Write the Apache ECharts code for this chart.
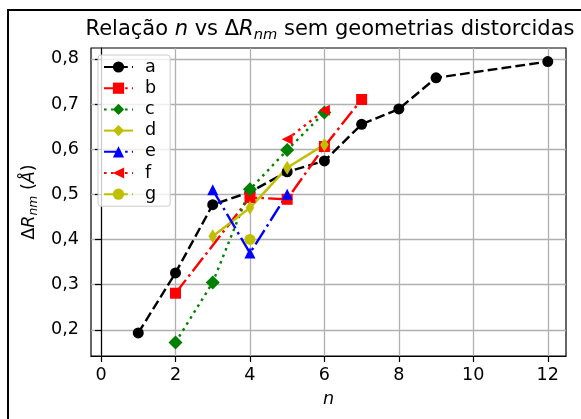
<!DOCTYPE html>
<html>
<head>
<meta charset="utf-8">
<script src="https://cdn.jsdelivr.net/npm/echarts@6/dist/echarts.min.js"></script>
<style>
  html, body { margin: 0; padding: 0; background: #ffffff; }
  #chart { width: 581px; height: 419px; }
</style>
</head>
<body>
<div id="chart"></div>
<script>
// n values and ΔR_nm (Å) for each set
const nA = [1, 2, 3, 4, 5, 6, 7, 8, 9, 12];
const dA = [0.193, 0.326, 0.477, 0.505, 0.550, 0.574, 0.655, 0.689, 0.758, 0.794];
const nB = [2, 4, 5, 6, 7];
const dB = [0.281, 0.493, 0.489, 0.606, 0.710];
const nC = [2, 3, 4, 5, 6];
const dC = [0.172, 0.305, 0.511, 0.598, 0.681];
const nD = [3, 4, 5, 6];
const dD = [0.407, 0.470, 0.559, 0.610];
const nE = [3, 4, 5];
const dE = [0.510, 0.370, 0.500];
const nF = [5, 6];
const dF = [0.622, 0.686];
const nG = [4];
const dG = [0.400];

const seriesNames = ['a', 'b', 'c', 'd', 'e', 'f', 'g'];
const xTicks = [0, 2, 4, 6, 8, 10, 12];
const yTicks = [0.2, 0.3, 0.4, 0.5, 0.6, 0.7, 0.8];

const FONT = 'DejaVu Sans';
const LW = 2.4;
const DASHED = [9.8, 4.2];
const DASHDOT = [16.9, 4.2, 2.6, 4.2];
const DOTTED = [2.6, 4.4];

function pairs(xs, ys) {
  return xs.map((x, i) => [x, ys[i]]);
}

function lineSeries(name, xs, ys, color, dash, symbol, size, rotate) {
  return {
    name: name,
    type: 'line',
    data: pairs(xs, ys),
    symbol: symbol,
    symbolSize: size,
    symbolRotate: rotate || 0,
    showAllSymbol: true,
    lineStyle: { color: color, width: LW, type: dash, cap: 'butt' },
    itemStyle: { color: color, borderColor: color, borderWidth: 0 },
    emphasis: { disabled: true },
    animation: false
  };
}

const chart = echarts.init(document.getElementById('chart'), null, { renderer: 'canvas' });

chart.setOption({
  backgroundColor: '#ffffff',
  animation: false,
  graphic: [
    {
      type: 'rect',
      shape: { x: 8, y: 10, width: 620, height: 480 },
      style: { fill: 'none', stroke: '#000000', lineWidth: 2 },
      silent: true
    },
    {
      type: 'text',
      x: 330,
      y: 30,
      style: {
        text: 'Relação {i|n} vs Δ{i|R}{s|nm} sem geometrias distorcidas',
        fontFamily: FONT,
        fontSize: 21,
        lineHeight: 26,
        fill: '#000000',
        align: 'center',
        verticalAlign: 'middle',
        rich: {
          i: { fontFamily: FONT, fontSize: 21, fontStyle: 'italic', lineHeight: 26, fill: '#000000' },
          s: { fontFamily: FONT, fontSize: 14.7, fontStyle: 'italic', verticalAlign: 'bottom', fill: '#000000' }
        }
      },
      silent: true
    }
  ],
  grid: {
    left: 91, right: 15, top: 48, bottom: 63,
    show: true, borderColor: '#000000', borderWidth: 1.2,
    containLabel: false
  },
  legend: {
    orient: 'vertical',
    left: 98,
    top: 55,
    padding: [3, 14, 3, 5],
    itemWidth: 29,
    itemHeight: 14,
    itemGap: 3.2,
    backgroundColor: 'rgba(255,255,255,0.8)',
    borderColor: '#cccccc',
    borderWidth: 1,
    borderRadius: 3,
    selectedMode: false,
    textStyle: { fontFamily: FONT, fontSize: 17.6, color: '#000000', lineHeight: 14, padding: [0, 0, 0, 7] },
    data: seriesNames
  },
  xAxis: {
    type: 'value',
    min: -0.27,
    max: 12.49,
    splitNumber: 6,
    name: 'n',
    nameLocation: 'middle',
    nameGap: 34,
    nameTextStyle: { fontFamily: FONT, fontSize: 17.6, fontStyle: 'italic', color: '#000000' },
    axisLine: { show: true, lineStyle: { color: '#000000', width: 1.2 } },
    axisTick: { show: true, length: 6, customValues: xTicks, lineStyle: { color: '#000000', width: 1.2 } },
    axisLabel: { customValues: xTicks, margin: 10, fontFamily: FONT, fontSize: 17.6, color: '#000000' },
    splitLine: { show: true, lineStyle: { color: '#b0b0b0', width: 1.3 } }
  },
  yAxis: {
    type: 'value',
    min: 0.142,
    max: 0.824,
    splitNumber: 7,
    name: 'Δ{i|R}{s|nm} ({i|Å})',
    nameLocation: 'middle',
    nameGap: 48,
    nameTextStyle: {
      fontFamily: FONT, fontSize: 17.6, color: '#000000', lineHeight: 22,
      rich: {
        i: { fontFamily: FONT, fontSize: 17.6, fontStyle: 'italic', lineHeight: 22, color: '#000000' },
        s: { fontFamily: FONT, fontSize: 12.3, fontStyle: 'italic', verticalAlign: 'bottom', color: '#000000' }
      }
    },
    axisLine: { show: true, lineStyle: { color: '#000000', width: 1.2 } },
    axisTick: { show: true, length: 6, customValues: yTicks, lineStyle: { color: '#000000', width: 1.2 } },
    axisLabel: {
      customValues: yTicks, margin: 12, fontFamily: FONT, fontSize: 17.6, color: '#000000',
      formatter: v => v.toFixed(1).replace('.', ',')
    },
    splitLine: { show: true, lineStyle: { color: '#b0b0b0', width: 1.3 } }
  },
  series: [
    lineSeries('a', nA, dA, '#000000', DASHED, 'circle', 11),
    lineSeries('b', nB, dB, '#ff0000', DASHDOT, 'rect', 11),
    lineSeries('c', nC, dC, '#008000', DOTTED, 'diamond', [14, 14]),
    lineSeries('d', nD, dD, '#bfbf00', 'solid', 'diamond', [8.5, 14]),
    lineSeries('e', nE, dE, '#0000ff', DASHDOT, 'triangle', [11, 11]),
    lineSeries('f', nF, dF, '#ff0000', DOTTED, 'triangle', [11, 11], 90),
    lineSeries('g', nG, dG, '#bfbf00', DASHED, 'circle', 11)
  ]
});
</script>
</body>
</html>
